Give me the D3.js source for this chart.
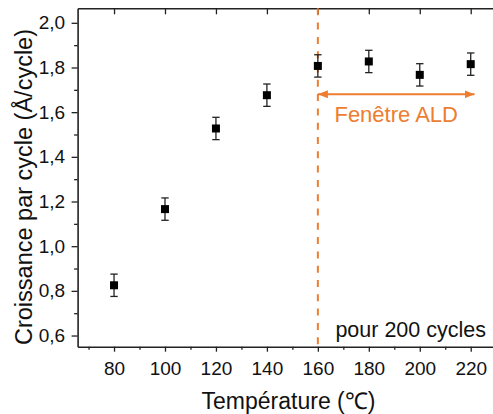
<!DOCTYPE html>
<html>
<head>
<meta charset="utf-8">
<script src="https://cdn.jsdelivr.net/npm/d3@7"></script>
<style>
  html, body { margin: 0; padding: 0; background: #fff; }
  svg { display: block; font-family: "Liberation Sans", Arial, Helvetica, sans-serif; }
</style>
</head>
<body>
<script>
// ---- data ----
const temperatures = [80, 100, 120, 140, 160, 180, 200, 220];
const growth = [0.825, 1.166, 1.527, 1.676, 1.807, 1.827, 1.767, 1.815];
const errors = [0.05, 0.05, 0.05, 0.05, 0.05, 0.05, 0.05, 0.05];
const xMajorTicks = [80, 100, 120, 140, 160, 180, 200, 220];
const xMinorTicks = [70, 90, 110, 130, 150, 170, 190, 210, 230];
const yMajorTicks = [0.6, 0.8, 1.0, 1.2, 1.4, 1.6, 1.8, 2.0];
const yMinorTicks = [0.7, 0.9, 1.1, 1.3, 1.5, 1.7, 1.9];
const aldStart = 160;
const aldEnd = 221.5;
const arrowLevel = 1.68;
const xTitle = "Température (℃)";
const yTitle = "Croissance par cycle (Å/cycle)";
const windowLabel = "Fenêtre ALD";
const cyclesLabel = "pour 200 cycles";

const W = 493, H = 414;
const orange = "#ED7D31";
const axisColor = "#222";

const svg = d3.select("body").append("svg").attr("width", W).attr("height", H);

const x = d3.scaleLinear().domain([65.7, 230]).range([77.6, 496.2]);
const y = d3.scaleLinear().domain([0.55, 2.065]).range([346.7, 8.3]);

const x0 = x.range()[0], yb = y.range()[0], yt = y.range()[1];
const fmt = d => d3.format(".1f")(d).replace(".", ",");

// minor / major ticks bottom
const gB = svg.append("g").attr("transform", `translate(0,${yb})`);
gB.call(d3.axisBottom(x).tickValues(xMinorTicks).tickSize(3).tickFormat(""));
gB.call(g => g.select(".domain").remove());
const gB2 = svg.append("g").attr("transform", `translate(0,${yb})`);
gB2.call(d3.axisBottom(x).tickValues(xMajorTicks).tickSize(5).tickPadding(10).tickSizeOuter(0).tickFormat(d3.format("d")));

// top ticks (inward)
const gT = svg.append("g").attr("transform", `translate(0,${yt})`);
gT.call(d3.axisTop(x).tickValues(xMinorTicks).tickSize(-3).tickFormat(""));
gT.call(d3.axisTop(x).tickValues(xMajorTicks).tickSize(-6).tickSizeOuter(0).tickFormat(""));

// left axis
const gL = svg.append("g").attr("transform", `translate(${x0},0)`);
gL.call(d3.axisLeft(y).tickValues(yMinorTicks).tickSize(3.5).tickFormat(""));
gL.call(g => g.select(".domain").remove());
const gL2 = svg.append("g").attr("transform", `translate(${x0},0)`);
gL2.call(d3.axisLeft(y).tickValues(yMajorTicks).tickSize(6).tickPadding(6.5).tickSizeOuter(0).tickFormat(fmt));

svg.selectAll(".domain").attr("stroke", axisColor).attr("stroke-width", 1.6);
svg.selectAll(".tick line").attr("stroke", axisColor).attr("stroke-width", 1.3);
svg.selectAll(".tick text").attr("fill", "#111").style("font-size", "19px")
   .style("font-family", "'Liberation Sans', Arial, sans-serif");

// dashed vertical line
svg.append("line")
  .attr("x1", x(aldStart)).attr("x2", x(aldStart))
  .attr("y1", yt).attr("y2", yb)
  .attr("stroke", orange).attr("stroke-width", 2)
  .attr("stroke-dasharray", "7,7.3");

// double arrow
const defs = svg.append("defs");
["start", "end"].forEach(k => {
  defs.append("marker").attr("id", "arr-" + k)
    .attr("viewBox", "0 0 10 8").attr("refX", 10).attr("refY", 4)
    .attr("markerWidth", 10).attr("markerHeight", 8)
    .attr("markerUnits", "userSpaceOnUse")
    .attr("orient", k === "start" ? "auto-start-reverse" : "auto")
    .append("path").attr("d", "M0,0 L10,4 L0,8 Z").attr("fill", orange);
});
svg.append("line")
  .attr("x1", x(aldStart)).attr("x2", x(aldEnd))
  .attr("y1", y(arrowLevel)).attr("y2", y(arrowLevel))
  .attr("stroke", orange).attr("stroke-width", 2)
  .attr("marker-start", "url(#arr-start)").attr("marker-end", "url(#arr-end)");

svg.append("text")
  .attr("x", x((aldStart + aldEnd) / 2)).attr("y", y(arrowLevel) + 27.5)
  .attr("text-anchor", "middle").attr("fill", orange)
  .style("font-size", "22px").text(windowLabel);

// error bars
const pts = temperatures.map((t, i) => ({t, v: growth[i], e: errors[i]}));
const eb = svg.append("g").attr("stroke", "#222").attr("stroke-width", 1.3);
eb.selectAll(".v").data(pts).join("line")
  .attr("x1", d => x(d.t)).attr("x2", d => x(d.t))
  .attr("y1", d => y(d.v + d.e)).attr("y2", d => y(d.v - d.e));
eb.selectAll(".ct").data(pts).join("line")
  .attr("x1", d => x(d.t) - 3.7).attr("x2", d => x(d.t) + 3.7)
  .attr("y1", d => y(d.v + d.e)).attr("y2", d => y(d.v + d.e));
eb.selectAll(".cb").data(pts).join("line")
  .attr("x1", d => x(d.t) - 3.7).attr("x2", d => x(d.t) + 3.7)
  .attr("y1", d => y(d.v - d.e)).attr("y2", d => y(d.v - d.e));

// square markers
svg.append("g").selectAll("rect").data(pts).join("rect")
  .attr("x", d => x(d.t) - 4).attr("y", d => y(d.v) - 4)
  .attr("width", 8).attr("height", 8).attr("fill", "#000");

// annotation
svg.append("text").attr("x", 486).attr("y", 336.5).attr("text-anchor", "end")
  .attr("fill", "#111").style("font-size", "21.5px").text(cyclesLabel);

// axis titles
svg.append("text").attr("x", 288.5).attr("y", 409)
  .attr("text-anchor", "middle").attr("fill", "#111")
  .style("font-size", "23px").text(xTitle);
svg.append("text").attr("transform", "translate(32,187) rotate(-90)")
  .attr("text-anchor", "middle").attr("fill", "#111")
  .style("font-size", "23.5px").text(yTitle);
</script>
</body>
</html>
